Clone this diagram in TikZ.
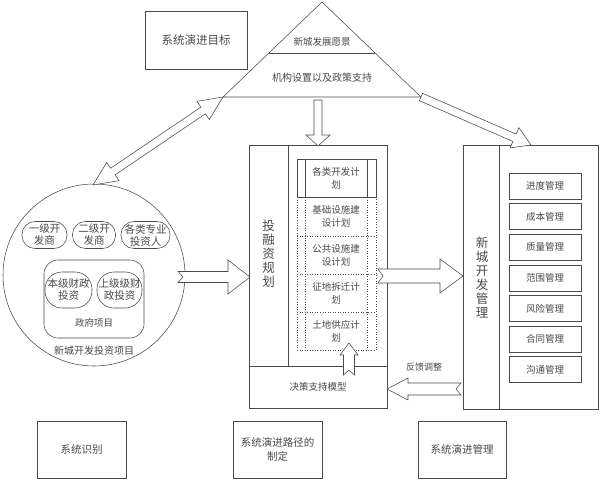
\documentclass[tikz,border=0pt]{standalone}
\usepackage{fontspec}
\setmainfont{Noto Sans CJK SC}
\usetikzlibrary{calc}
\definecolor{linec}{HTML}{4A4A4A}
\definecolor{txtc}{HTML}{4A4A4A}
\newcommand\blockarr[6]{%
 \path (#1); \pgfgetlastxy{\bax}{\bay}%
 \path (#2); \pgfgetlastxy{\bbx}{\bby}%
 \pgfmathsetmacro\bang{atan2((\bby)-(\bay),(\bbx)-(\bax))}%
 \pgfmathsetmacro\blen{veclen((\bbx)-(\bax),(\bby)-(\bay))}%
 \begin{scope}[shift={(\bax,\bay)},rotate=\bang,x=1pt,y=1pt]
 \draw[barr] (0,#3) -- ({\blen-#5},#3) -- ({\blen-#5},#4) -- (\blen,0) -- ({\blen-#5},-#4) -- ({\blen-#5},-#3) -- (0,-#3) -- (#6,0) -- cycle;
 \end{scope}}
\newcommand\dblarr[5]{%
 \path (#1); \pgfgetlastxy{\bax}{\bay}%
 \path (#2); \pgfgetlastxy{\bbx}{\bby}%
 \pgfmathsetmacro\bang{atan2((\bby)-(\bay),(\bbx)-(\bax))}%
 \pgfmathsetmacro\blen{veclen((\bbx)-(\bax),(\bby)-(\bay))}%
 \begin{scope}[shift={(\bax,\bay)},rotate=\bang,x=1pt,y=1pt]
 \draw[barr] (0,0) -- (#5,#4) -- (#5,#3) -- ({\blen-#5},#3) -- ({\blen-#5},#4) -- (\blen,0) -- ({\blen-#5},-#4) -- ({\blen-#5},-#3) -- (#5,-#3) -- (#5,-#4) -- cycle;
 \end{scope}}
\tikzset{
 ln/.style={draw=linec, line width=0.55pt},
 dln/.style={draw=linec, line width=0.55pt, dotted},
 barr/.style={draw=linec, fill=white, line width=0.55pt, line join=miter},
 lbl/.style={text=txtc, font=\fontsize{9.5}{13}\selectfont, align=center, inner sep=0pt},
 bigbox/.style={ln, text=txtc, font=\fontsize{10.5}{14}\selectfont, align=center, inner sep=0pt},
 mitem/.style={ln, text=txtc, font=\fontsize{9.5}{12}\selectfont, minimum width=72pt, minimum height=26pt, inner sep=0pt},
 oval/.style={ln, text=txtc, font=\fontsize{10.5}{12}\selectfont, align=center, rounded corners=13pt, inner sep=0pt},
 vlbl/.style={text=txtc, font=\fontsize{12.5}{14}\selectfont, align=center, inner sep=0pt},
}
\begin{document}
\begin{tikzpicture}[x=1pt,y=-1pt]
\useasboundingbox[fill=white] (0,0) rectangle (600,480);

% goal box
\node[bigbox, font=\fontsize{11.5}{14}\selectfont, minimum width=102pt, minimum height=58pt] (goal) at (196,40) {系统演进目标};

% triangle
\coordinate (tapex) at (322,2);
\coordinate (tl) at (223,97);
\coordinate (tr) at (421,97);
\coordinate (tml) at (269,53);
\coordinate (tmr) at (375,53);
\draw[ln] (tapex) -- (tl) -- (tr) -- cycle;
\draw[ln] (tml) -- (tmr);
\node[lbl] (vision) at (322,42) {新城发展愿景};
\node[lbl, font=\fontsize{10}{12}\selectfont] (policy) at (322,78) {机构设置以及政策支持};

% circle
\node[ln, circle, minimum size=182pt, inner sep=0pt] (circ) at (94,275) {};
\node[oval, minimum width=45pt, minimum height=27pt] (d1) at (44.5,235) {一级开\\发商};
\node[oval, minimum width=43pt, minimum height=27pt] (d2) at (94,235) {二级开\\发商};
\node[oval, minimum width=49pt, minimum height=27pt] (d3) at (145.5,235) {各类专业\\投资人};
\node[ln, rounded corners=14pt, minimum width=100pt, minimum height=78pt, inner sep=0pt] (gov) at (94,299) {};
\node[oval, rounded corners=17pt, minimum width=47pt, minimum height=36pt] (f1) at (68.5,290) {本级财政\\投资};
\node[oval, rounded corners=17pt, minimum width=45pt, minimum height=36pt] (f2) at (119.5,290) {上级级财\\政投资};
\node[lbl] (govl) at (94,323) {政府项目};
\node[lbl, font=\fontsize{10}{12}\selectfont] (circl) at (94,351) {新城开发投资项目};

% planning box
\node[ln, minimum width=138pt, minimum height=263pt, inner sep=0pt] (plan) at (318,276.5) {};
\coordinate (pd1) at (288,145);
\coordinate (pd2) at (288,366);
\coordinate (ph1) at (249,366);
\coordinate (ph2) at (387,366);
\draw[ln] (pd1) -- (pd2);
\draw[ln] (ph1) -- (ph2);
\node[vlbl] (planl) at (268.5,254) {投\\融\\资\\规\\划};
% column
\draw[dln] (297,197) rectangle (376,350);
\draw[dln] (305,197) -- (305,350);
\draw[dln] (367,197) -- (367,350);
\draw[dln] (297,236) -- (376,236);
\draw[dln] (297,274) -- (376,274);
\draw[dln] (297,312) -- (376,312);
\draw[ln] (297,159) rectangle (376,197);
\draw[ln] (305,159) -- (305,197);
\draw[ln] (367,159) -- (367,197);
\node[lbl] (c1) at (336,178) {各类开发计\\划};
\node[lbl] (c2) at (336,216.5) {基础设施建\\设计划};
\node[lbl] (c3) at (336,255) {公共设施建\\设计划};
\node[lbl] (c4) at (336,293) {征地拆迁计\\划};
\node[lbl] (c5) at (336,331) {土地供应计\\划};
\node[lbl] (dec) at (318,387) {决策支持模型};
\node[lbl, font=\fontsize{9}{11}\selectfont] (fb) at (424,367) {反馈调整};

% management box
\node[ln, minimum width=135pt, minimum height=264pt, inner sep=0pt] (mgmt) at (530.5,277) {};
\coordinate (md1) at (499,145);
\coordinate (md2) at (499,409);
\draw[ln] (md1) -- (md2);
\node[vlbl] (mgmtl) at (482,278) {新\\城\\开\\发\\管\\理};
\node[mitem] (m1) at (545,186) {进度管理};
\node[mitem] (m2) at (545,216.6) {成本管理};
\node[mitem] (m3) at (545,247.2) {质量管理};
\node[mitem] (m4) at (545,277.8) {范围管理};
\node[mitem] (m5) at (545,308.4) {风险管理};
\node[mitem] (m6) at (545,339) {合同管理};
\node[mitem] (m7) at (545,369.6) {沟通管理};

% bottom labels
\node[bigbox, minimum width=89pt, minimum height=57pt] (sid) at (81.5,449.5) {系统识别};
\node[bigbox, minimum width=89pt, minimum height=57pt] (spath) at (277.5,449.5) {系统演进路径的\\制定};
\node[bigbox, minimum width=88pt, minimum height=57pt] (smgmt) at (462,449.5) {系统演进管理};

% arrows
\coordinate (a1s) at (93,185);
\dblarr{a1s}{tl}{4}{11}{24}
\coordinate (a2s) at (318,100);
\coordinate (a2e) at (318,146);
\blockarr{a2s}{a2e}{4}{12}{11}{0}
\coordinate (a3s) at (178,277);
\coordinate (a3e) at (250,277);
\blockarr{a3s}{a3e}{5.5}{17}{22}{5}
\coordinate (a4s) at (378,276);
\coordinate (a4e) at (463,276);
\blockarr{a4s}{a4e}{7}{17}{23}{5}
\coordinate (a5s) at (349,375);
\coordinate (a5e) at (349,343);
\blockarr{a5s}{a5e}{5.5}{9}{12}{5}
\coordinate (a6s) at (461,389);
\coordinate (a6e) at (387,389);
\blockarr{a6s}{a6e}{6}{11}{21}{5}
\coordinate (a7e) at (531,145);
\blockarr{tr}{a7e}{4}{11}{18}{0}
\end{tikzpicture}
\end{document}
